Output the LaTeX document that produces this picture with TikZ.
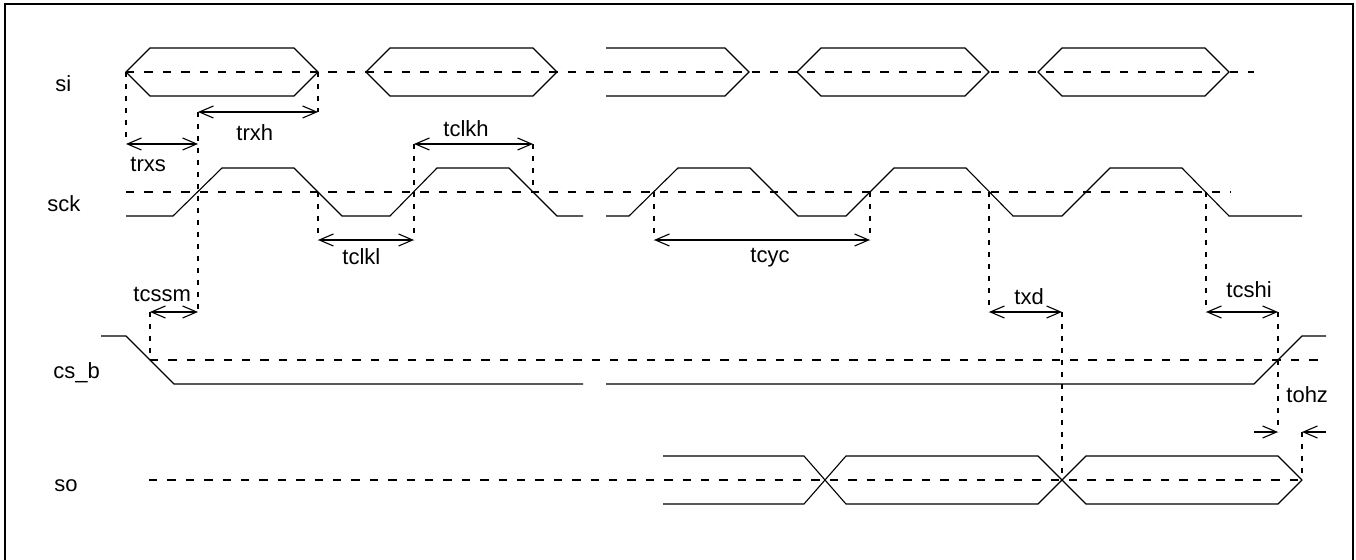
\documentclass[tikz,border=0pt]{standalone}
\usepackage{fontspec}
\setmainfont{Liberation Sans}
\usetikzlibrary{arrows.meta}

\tikzset{
  wave/.style={line width=0.55pt},
  midline/.style={line width=0.55pt,dash pattern=on 4.2pt off 5pt},
  marker/.style={line width=0.55pt,dash pattern=on 2.5pt off 3.5pt},
  barb/.tip={Straight Barb[length=7pt,width=6pt]},
  span/.style={line width=0.55pt,barb-barb},
  halfspan/.style={line width=0.55pt,-barb},
  lbl/.style={anchor=base west,inner sep=0pt,font=\fontsize{11}{13}\selectfont},
}

\begin{document}
\begin{tikzpicture}[x=0.5pt,y=-0.5pt]
    \useasboundingbox (0,0) rectangle (1356,560);

    % Frame (bottom edge is cut off)
    \draw[line width=0.6pt] (5,560) -- (5,4) -- (1353,4) -- (1353,560);

    % Signal names
    \node[lbl] (si) at (55,92) {si};
    \node[lbl] (sck) at (47,212) {sck};
    \node[lbl] (csb) at (53,379) {cs\_b};
    \node[lbl] (so) at (54,492) {so};

    % si
    \draw[midline] (126,72) -- (1254,72);
    \draw[wave] (126,72) -- (150,48) -- (294,48) -- (318,72) -- (294,96) -- (150,96) -- cycle;
    \draw[wave] (366,72) -- (390,48) -- (533,48) -- (557,72) -- (533,96) -- (390,96) -- cycle;
    \draw[wave] (606,48) -- (725,48) -- (749,72) -- (725,96) -- (606,96);
    \draw[wave] (797,72) -- (821,48) -- (965,48) -- (989,72) -- (965,96) -- (821,96) -- cycle;
    \draw[wave] (1038,72) -- (1062,48) -- (1205,48) -- (1229,72) -- (1205,96) -- (1062,96) -- cycle;

    % sck
    \draw[midline] (126,192) -- (1231,192);
    \draw[wave] (126,216) -- (173,216) -- (222,168) -- (294,168) -- (342,216) -- (390,216)
      -- (437,168) -- (509,168) -- (557,216) -- (583,216);
    \draw[wave] (606,216) -- (629,216) -- (678,168) -- (750,168) -- (798,216) -- (846,216)
      -- (894,168) -- (966,168) -- (1013,216) -- (1062,216) -- (1110,168) -- (1182,168)
      -- (1229,216) -- (1302,216);

    % cs_b
    \draw[midline] (150,360) -- (1327,360);
    \draw[wave] (101,336) -- (126,336) -- (174,384) -- (583,384);
    \draw[wave] (606,384) -- (1254,384) -- (1302,336) -- (1326,336);

    % so
    \draw[midline] (149,480) -- (1302,480);
    \draw[wave] (663,456) -- (804,456) -- (846,504) -- (1038,504) -- (1086,456) -- (1278,456) -- (1302,480);
    \draw[wave] (663,504) -- (804,504) -- (846,456) -- (1038,456) -- (1086,504) -- (1278,504) -- (1302,480);

    % Timing markers: x, from, to
    \foreach \x/\ya/\yb in {126/72/144, 198/112/312, 318/72/112, 318/192/240, 414/144/240,
        533/144/192, 654/192/240, 870/192/240, 989/192/312, 1206/192/312,
        150/312/360, 1062/312/480, 1278/312/432, 1302/432/480}
    {
        \draw[marker] (\x,\ya) -- (\x,\yb);
    }

    % Timing spans
    \draw[span] (126,144) -- (198,144);
    \node[lbl] (trxs) at (130,172) {trxs};
    \draw[span] (198,112) -- (318,112);
    \node[lbl] (trxh) at (236,141) {trxh};
    \draw[span] (414,144) -- (533,144);
    \node[lbl] (tclkh) at (443,137) {tclkh};
    \draw[span] (318,240) -- (414,240);
    \node[lbl] (tclkl) at (342,265) {tclkl};
    \draw[span] (654,240) -- (870,240);
    \node[lbl] (tcyc) at (750,263) {tcyc};
    \draw[span] (150,312) -- (198,312);
    \node[lbl] (tcssm) at (133,302) {tcssm};
    \draw[span] (989,312) -- (1062,312);
    \node[lbl] (txd) at (1014,305) {txd};
    \draw[span] (1206,312) -- (1278,312);
    \node[lbl] (tcshi) at (1226,298) {tcshi};
    \draw[halfspan] (1254,432) -- (1278,432);
    \draw[halfspan] (1326,432) -- (1302,432);
    \node[lbl] (tohz) at (1286,403) {tohz};
\end{tikzpicture}
\end{document}
